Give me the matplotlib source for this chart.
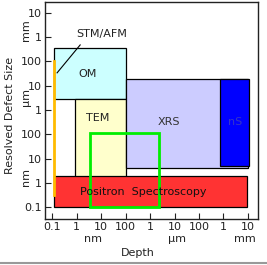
import matplotlib
matplotlib.use("Agg")
import matplotlib.pyplot as plt
from matplotlib.patches import Rectangle
from matplotlib.lines import Line2D

plt.rcParams['font.family'] = ['DejaVu Sans']

# Values in nanometres
tick_values = [0.1, 1, 10, 100, 1e3, 1e4, 1e5, 1e6, 1e7]
tick_labels = ["0.1", "1", "10", "100", "1", "10", "100", "1", "10"]

# technique regions: name, (x0, x1), (y0, y1), fill color
techniques = ["OM", "TEM", "XRS", "nS", "Positron  Spectroscopy"]
x_ranges = [(0.12, 100), (0.87, 100), (100, 1.05e7), (7.2e5, 1.1e7), (0.12, 9e6)]
y_ranges = [(2.8e3, 3.6e5), (1.0, 2.8e3), (4.0, 1.9e4), (4.8, 1.9e4), (0.1, 1.9)]
fills = ["#CCFFFF", "#FFFFCC", "#CCCCFF", "#0000FF", "#FF3333"]
label_pos = [(2.9, 3e4), (7.5, 470), (6e3, 316), (3e6, 316), (515, 0.42)]
label_colors = ["#222222", "#222222", "#333333", "#3535C8", "#111111"]

# STM/AFM line
stm_x = 0.12
stm_y = (0.31, 1e5)
# green highlighted region
green_x = (3.5, 2.3e3)
green_y = (0.1, 112)

FS = 8
W, H = 267, 265
fig = plt.figure(figsize=(W / 100, H / 100), dpi=100)
ax = fig.add_axes([45 / W, 1 - 219 / H, (258 - 45) / W, (219 - 2) / H])
ax.set_xscale('log')
ax.set_yscale('log')
ax.set_xlim(10 ** -1.29, 10 ** 7.41)
ax.set_ylim(10 ** -1.49, 10 ** 7.45)

for name, (x0, x1), (y0, y1), fc in zip(techniques, x_ranges, y_ranges, fills):
    ax.add_patch(Rectangle((x0, y0), x1 - x0, y1 - y0, facecolor=fc,
                           edgecolor='black', linewidth=0.9, zorder=2))

for name, (lx, ly), c in zip(techniques, label_pos, label_colors):
    ax.text(lx, ly, name, ha='center', va='center', fontsize=FS, color=c, zorder=5)

ax.plot([stm_x, stm_x], list(stm_y), color='#FFBB00', linewidth=2, zorder=4)
ax.add_patch(Rectangle((green_x[0], green_y[0]), green_x[1] - green_x[0],
                       green_y[1] - green_y[0], facecolor='none',
                       edgecolor='#00EE00', linewidth=2, zorder=4))

ax.plot([0.16, 1.4], [3.4e4, 4.8e5], color='black', linewidth=0.8, zorder=5)
ax.text(11, 1.35e6, "STM/AFM", ha='center', va='center', fontsize=FS, color='#222222')

ax.set_xticks(tick_values)
ax.set_xticklabels(tick_labels)
ax.set_yticks(tick_values)
ax.set_yticklabels(tick_labels)
ax.minorticks_off()
ax.tick_params(direction='in', length=4, width=0.8, labelsize=FS,
               colors='#222222', pad=2)
for s in ax.spines.values():
    s.set_linewidth(1.0)
    s.set_color('#222222')

# unit labels
for txt, x in [("nm", 93), ("\u00b5m", 177), ("mm", 245)]:
    fig.text(x / W, 1 - 239 / H, txt, ha='center', va='center', fontsize=FS, color='#222222')
fig.text(138 / W, 1 - 253 / H, "Depth", ha='center', va='center', fontsize=FS, color='#222222')
for txt, y in [("mm", 30), ("\u00b5m", 97), ("nm", 177)]:
    fig.text(26 / W, 1 - y / H, txt, ha='center', va='center', rotation=90, fontsize=FS, color='#222222')
fig.text(10 / W, 1 - 115 / H, "Resolved Defect Size", ha='center', va='center',
         rotation=90, fontsize=FS, color='#222222')

fig.add_artist(Line2D([0, 1], [1 - 262.5 / H, 1 - 262.5 / H], color='#999999', linewidth=1.5))

fig.savefig("out.png", dpi=100)
